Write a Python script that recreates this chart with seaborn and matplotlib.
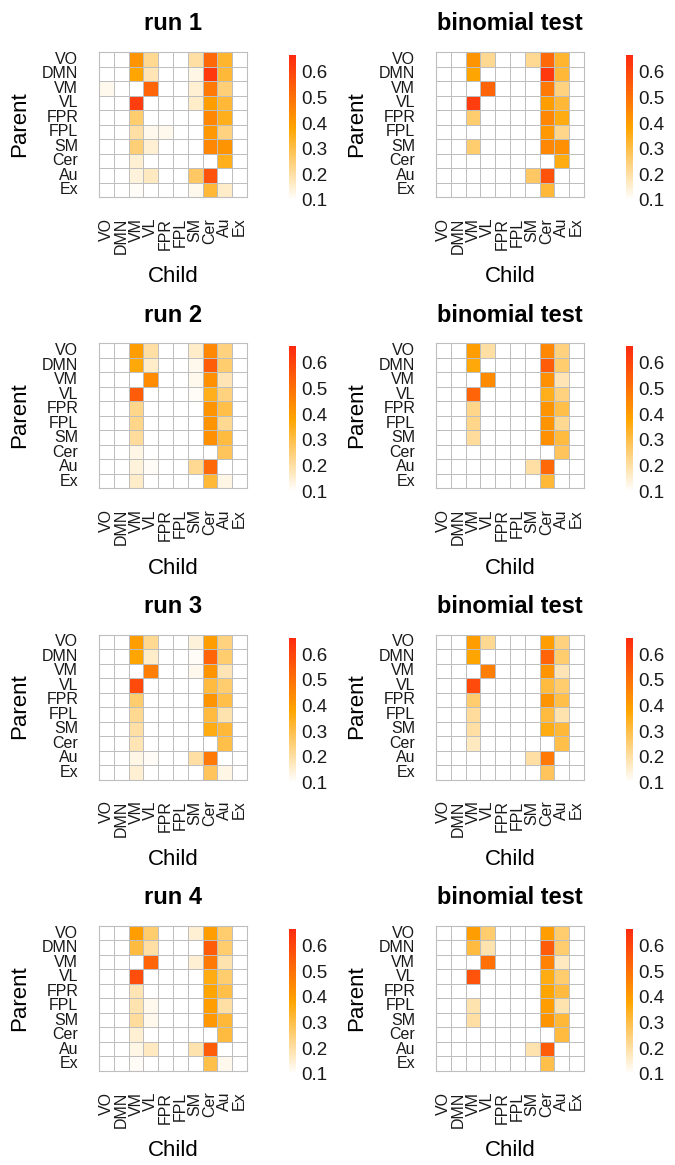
import numpy as np
import pandas as pd
import matplotlib
matplotlib.use("Agg")
import matplotlib.pyplot as plt
import seaborn as sns
from matplotlib.colors import LinearSegmentedColormap

labels = ["VO", "DMN", "VM", "VL", "FPR", "FPL", "SM", "Cer", "Au", "Ex"]
titles = ["run 1", "binomial test", "run 2", "binomial test",
          "run 3", "binomial test", "run 4", "binomial test"]

run1 = [
    [0, 0, .42, .22, 0, 0, .20, .52, .33, 0],
    [0, 0, .38, .18, 0, 0, .13, .63, .32, 0],
    [.12, 0, 0, .53, 0, 0, .15, .48, .25, 0],
    [0, 0, .62, 0, 0, 0, .16, .40, .32, 0],
    [0, 0, .26, 0, 0, 0, 0, .45, .35, 0],
    [0, 0, .20, .12, .12, 0, 0, .41, .24, 0],
    [0, 0, .25, .15, 0, 0, 0, .45, .42, 0],
    [0, 0, .15, 0, 0, 0, 0, 0, .35, 0],
    [0, 0, .14, .17, 0, 0, .27, .57, 0, 0],
    [0, 0, .11, 0, 0, 0, .12, .32, .16, 0],
]
binom1 = [
    [0, 0, .42, .22, 0, 0, .22, .52, .33, 0],
    [0, 0, .38, 0, 0, 0, 0, .63, .32, 0],
    [0, 0, 0, .53, 0, 0, 0, .48, .24, 0],
    [0, 0, .62, 0, 0, 0, 0, .40, .32, 0],
    [0, 0, .26, 0, 0, 0, 0, .45, .36, 0],
    [0, 0, 0, 0, 0, 0, 0, .41, .23, 0],
    [0, 0, .26, 0, 0, 0, 0, .45, .43, 0],
    [0, 0, 0, 0, 0, 0, 0, 0, .36, 0],
    [0, 0, 0, 0, 0, 0, .27, .57, 0, 0],
    [0, 0, 0, 0, 0, 0, 0, .32, 0, 0],
]
run2 = [
    [0, 0, .40, .20, 0, 0, .16, .45, .24, 0],
    [0, 0, .37, .16, 0, 0, .12, .55, .26, 0],
    [0, 0, 0, .44, 0, 0, .12, .43, .18, 0],
    [0, 0, .55, 0, 0, 0, .11, .35, .24, 0],
    [0, 0, .23, 0, 0, 0, 0, .42, .30, 0],
    [0, 0, .23, 0, 0, 0, 0, .42, .22, 0],
    [0, 0, .21, 0, 0, 0, 0, .43, .31, 0],
    [0, 0, .13, 0, 0, 0, 0, 0, .28, 0],
    [0, 0, .14, .11, 0, 0, .22, .52, 0, 0],
    [0, 0, .16, 0, 0, 0, 0, .32, .13, 0],
]
binom2 = [
    [0, 0, .40, .20, 0, 0, 0, .45, .24, 0],
    [0, 0, .37, 0, 0, 0, 0, .55, .26, 0],
    [0, 0, 0, .44, 0, 0, 0, .43, .18, 0],
    [0, 0, .53, 0, 0, 0, 0, .35, .24, 0],
    [0, 0, .23, 0, 0, 0, 0, .42, .30, 0],
    [0, 0, .23, 0, 0, 0, 0, .42, .22, 0],
    [0, 0, .21, 0, 0, 0, 0, .43, .31, 0],
    [0, 0, 0, 0, 0, 0, 0, 0, .28, 0],
    [0, 0, 0, 0, 0, 0, .20, .52, 0, 0],
    [0, 0, 0, 0, 0, 0, 0, .32, 0, 0],
]
run3 = [
    [0, 0, .40, .22, 0, 0, .14, .40, .24, 0],
    [0, 0, .38, .16, 0, 0, .11, .53, .26, 0],
    [0, 0, 0, .47, 0, 0, .12, .42, .18, 0],
    [0, 0, .59, 0, 0, 0, 0, .31, .26, 0],
    [0, 0, .26, 0, 0, 0, 0, .42, .30, 0],
    [0, 0, .22, 0, 0, 0, 0, .31, .19, 0],
    [0, 0, .20, 0, 0, 0, 0, .36, .32, 0],
    [0, 0, .18, 0, 0, 0, 0, 0, .30, 0],
    [0, 0, .13, .11, 0, 0, .20, .48, 0, 0],
    [0, 0, .15, 0, 0, 0, 0, .28, .13, 0],
]
binom3 = [
    [0, 0, .40, .22, 0, 0, 0, .40, .24, 0],
    [0, 0, .38, 0, 0, 0, 0, .53, .26, 0],
    [0, 0, 0, .47, 0, 0, 0, .42, .18, 0],
    [0, 0, .59, 0, 0, 0, 0, .31, .26, 0],
    [0, 0, .26, 0, 0, 0, 0, .42, .30, 0],
    [0, 0, .21, 0, 0, 0, 0, .31, .19, 0],
    [0, 0, .20, 0, 0, 0, 0, .36, .32, 0],
    [0, 0, .17, 0, 0, 0, 0, 0, .30, 0],
    [0, 0, 0, 0, 0, 0, .20, .48, 0, 0],
    [0, 0, 0, 0, 0, 0, 0, .28, 0, 0],
]
run4 = [
    [0, 0, .40, .26, 0, 0, .15, .40, .26, 0],
    [0, 0, .31, .20, 0, 0, 0, .55, .26, 0],
    [0, 0, 0, .53, 0, 0, .15, .48, .19, 0],
    [0, 0, .58, 0, 0, 0, 0, .36, .26, 0],
    [0, 0, .18, 0, 0, 0, 0, .38, .30, 0],
    [0, 0, .19, .12, 0, 0, 0, .40, .20, 0],
    [0, 0, .21, .12, 0, 0, 0, .41, .32, 0],
    [0, 0, .15, 0, 0, 0, 0, 0, .31, 0],
    [0, 0, .13, .17, 0, 0, .19, .55, 0, 0],
    [0, 0, .11, 0, 0, 0, 0, .30, .12, 0],
]
binom4 = [
    [0, 0, .40, .26, 0, 0, 0, .40, .26, 0],
    [0, 0, .31, .19, 0, 0, 0, .55, .26, 0],
    [0, 0, 0, .50, 0, 0, 0, .46, .17, 0],
    [0, 0, .57, 0, 0, 0, 0, .36, .26, 0],
    [0, 0, 0, 0, 0, 0, 0, .38, .31, 0],
    [0, 0, .19, 0, 0, 0, 0, .40, .19, 0],
    [0, 0, .20, 0, 0, 0, 0, .42, .32, 0],
    [0, 0, 0, 0, 0, 0, 0, 0, .31, 0],
    [0, 0, 0, 0, 0, 0, .19, .55, 0, 0],
    [0, 0, 0, 0, 0, 0, 0, .30, 0, 0],
]
panels = [run1, binom1, run2, binom2, run3, binom3, run4, binom4]
cbar_ticks = [0.1, 0.2, 0.3, 0.4, 0.5, 0.6]

sns.set_theme(style="white")
plt.rcParams["font.family"] = ["Liberation Sans", "DejaVu Sans"]

W, H = 675, 1165
fig = plt.figure(figsize=(W / 100, H / 100), dpi=100)


def frac(x0, y0, w, h):
    return [x0 / W, 1 - (y0 + h) / H, w / W, h / H]


vmin, vmax = 0.1, 0.665
cmap = LinearSegmentedColormap.from_list(
    "wor", [(0.0, "#FFFFFF"), ((0.38 - vmin) / (vmax - vmin), "#FFA500"), (1.0, "#FF2A10")]
).with_extremes(under="white")

grid_col = "#BEBEBE"
for i, (data, title) in enumerate(zip(panels, titles)):
    r, c = divmod(i, 2)
    dx = 337 * c
    dy = 291.3 * r
    ax = fig.add_axes(frac(99 + dx, 52 + dy, 148, 145))
    cax = fig.add_axes(frac(289 + dx, 55 + dy, 7, 145))
    df = pd.DataFrame(data, index=labels, columns=labels)
    sns.heatmap(df, ax=ax, cmap=cmap, vmin=vmin, vmax=vmax, cbar=True, cbar_ax=cax,
                linewidths=0.7, linecolor=grid_col, xticklabels=labels, yticklabels=labels)
    for sp in ax.spines.values():
        sp.set_visible(True)
        sp.set_color(grid_col)
        sp.set_linewidth(0.8)
    ax.set_xlabel("")
    ax.set_ylabel("")
    ax.tick_params(axis="both", length=0, pad=15, labelsize=11.5, colors="#1a1a1a")
    ax.set_xticklabels(labels, rotation=90, va="top", ha="center")
    ax.set_yticklabels(labels, rotation=0, ha="right", va="center")

    cb = ax.collections[0].colorbar
    cb.outline.set_visible(False)
    cb.set_ticks(cbar_ticks)
    cb.set_ticklabels([f"{t:.1f}" for t in cbar_ticks])
    cax.tick_params(axis="y", which="major", direction="in", length=1.5, width=0.7,
                    color="white", left=True, right=True, labelsize=13.5, pad=3.5,
                    labelcolor="#1a1a1a")

    fig.text((173 + dx) / W, 1 - (24 + dy) / H, title, ha="center", va="center",
             fontsize=17, fontweight="bold", color="black")
    fig.text((20 + dx) / W, 1 - (124 + dy) / H, "Parent", ha="center", va="center",
             rotation=90, fontsize=16, color="black")
    fig.text((173 + dx) / W, 1 - (277 + dy) / H, "Child", ha="center", va="center",
             fontsize=16, color="black")

fig.savefig("out.png", dpi=100, facecolor="white")
